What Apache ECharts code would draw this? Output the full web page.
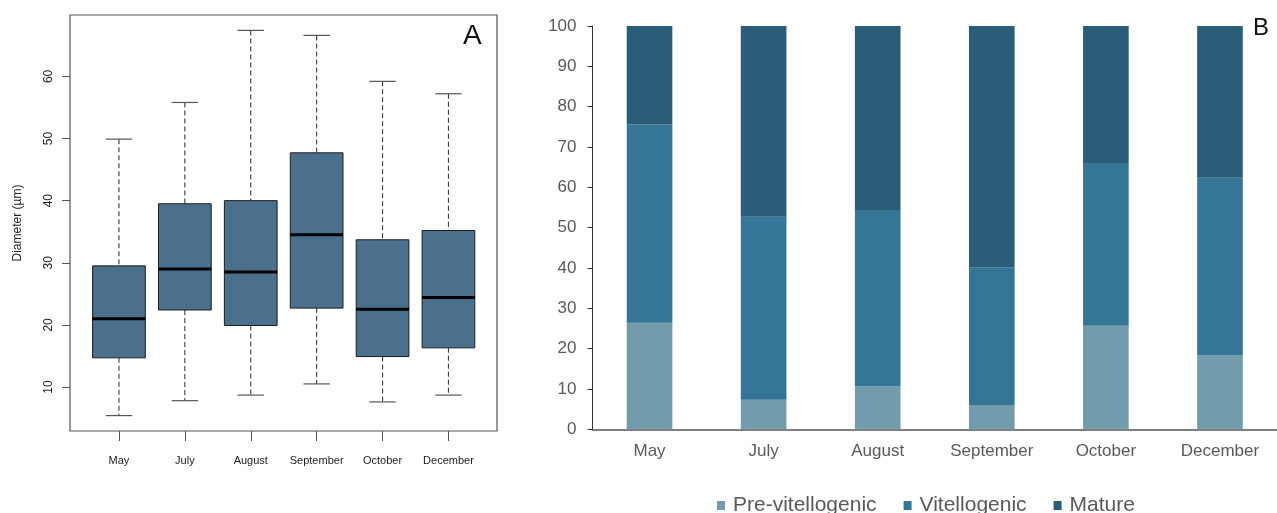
<!DOCTYPE html>
<html lang="en">

<head>
    <meta charset="UTF-8">
    <title>Oocyte diameter and stages</title>
    <script src="https://cdn.jsdelivr.net/npm/echarts@6/dist/echarts.min.js"></script>
    <style>
        * {
            margin: 0;
            padding: 0;
        }
        body {
            background-color: #fff;
        }
        #box {
            width: 1277px;
            height: 513px;
        }
    </style>
</head>

<body>
    <div id="box"></div>
    <script>
        // panel A - boxplot of diameter
        const months = ['May', 'July', 'August', 'September', 'October', 'December'];
        const whiskerLow = [5.4, 7.8, 8.7, 10.5, 7.6, 8.7];
        const q1 = [14.7, 22.4, 19.9, 22.7, 14.9, 16.3];
        const median = [21.0, 29.0, 28.5, 34.5, 22.5, 24.4];
        const q3 = [29.5, 39.5, 40.0, 47.7, 33.7, 35.2];
        const whiskerHigh = [49.9, 55.8, 67.4, 66.6, 59.2, 57.2];
        const diameterTicks = [10, 20, 30, 40, 50, 60];

        // panel B - stage percentages
        const preVit = [26.4, 7.3, 10.7, 6.0, 25.7, 18.3];
        const vitello = [49.2, 45.4, 43.7, 34.2, 40.3, 44.1];
        const mature = [24.4, 47.3, 45.6, 59.8, 34.0, 37.6];

        const font = 'Liberation Sans, Arial, sans-serif';

        let boxData = [];
        for (let i = 0; i < months.length; i++) {
            boxData.push([i, whiskerLow[i], q1[i], median[i], q3[i], whiskerHigh[i]]);
        }

        function renderBox(params, api) {
            const i = api.value(0);
            const lo = api.coord([i, api.value(1)]);
            const b1 = api.coord([i, api.value(2)]);
            const md = api.coord([i, api.value(3)]);
            const b3 = api.coord([i, api.value(4)]);
            const hi = api.coord([i, api.value(5)]);
            const w = api.size([1, 0])[0] * 0.8;
            const x = lo[0];
            const dash = { stroke: '#3a3a3a', lineWidth: 1.1, lineDash: [5, 3] };
            const cap = { stroke: '#555', lineWidth: 1.2 };
            return {
                type: 'group',
                children: [
                    { type: 'line', shape: { x1: x, y1: hi[1], x2: x, y2: b3[1] }, style: dash },
                    { type: 'line', shape: { x1: x, y1: b1[1], x2: x, y2: lo[1] }, style: dash },
                    { type: 'line', shape: { x1: x - w / 4, y1: hi[1], x2: x + w / 4, y2: hi[1] }, style: cap },
                    { type: 'line', shape: { x1: x - w / 4, y1: lo[1], x2: x + w / 4, y2: lo[1] }, style: cap },
                    {
                        type: 'rect',
                        shape: { x: x - w / 2, y: b3[1], width: w, height: b1[1] - b3[1] },
                        style: { fill: '#4a708c', stroke: '#1e1e1e', lineWidth: 1 }
                    },
                    { type: 'line', shape: { x1: x - w / 2, y1: md[1], x2: x + w / 2, y2: md[1] }, style: { stroke: '#000', lineWidth: 3 } }
                ]
            };
        }

        var option = {
            animation: false,
            textStyle: { fontFamily: font },
            title: [
                { text: 'A', left: 463, top: 22, padding: 0, textStyle: { fontSize: 28, fontWeight: 'normal', color: '#111', fontFamily: font } },
                { text: 'B', left: 1253, top: 16, padding: 0, textStyle: { fontSize: 24, fontWeight: 'normal', color: '#111', fontFamily: font } }
            ],
            legend: {
                data: ['Pre-vitellogenic', 'Vitellogenic', 'Mature'],
                left: 712,
                top: 490,
                icon: 'rect',
                itemWidth: 8,
                itemHeight: 9,
                itemGap: 27,
                textStyle: { fontSize: 21, color: '#595959', fontFamily: font, padding: [0, 0, 0, 3] }
            },
            grid: [
                // boxes
                { left: 86, right: 795.6, top: 15, bottom: 82 },
                // frame of panel A
                { left: 70, right: 780, top: 15, bottom: 82, show: true, borderColor: '#555', borderWidth: 1.2, backgroundColor: 'transparent' },
                // panel B
                { left: 592.5, right: -10.3, top: 26, bottom: 83.7 }
            ],
            xAxis: [
                {
                    type: 'category',
                    gridIndex: 0,
                    data: months,
                    axisLine: { show: false },
                    axisTick: { show: true, interval: 0, alignWithLabel: true, length: 10, lineStyle: { color: '#555' } },
                    axisLabel: { interval: 0, fontSize: 11, color: '#222', margin: 24, fontFamily: font }
                },
                { type: 'value', gridIndex: 1, show: false },
                {
                    type: 'category',
                    gridIndex: 2,
                    data: months,
                    axisLine: { lineStyle: { color: '#555', width: 1.5 } },
                    axisTick: { show: false },
                    axisLabel: { interval: 0, fontSize: 17, color: '#595959', margin: 14, fontFamily: font }
                }
            ],
            yAxis: [
                {
                    type: 'value',
                    gridIndex: 0,
                    min: 2.92,
                    max: 69.88,
                    offset: 16,
                    name: 'Diameter (µm)',
                    nameLocation: 'middle',
                    nameGap: 46,
                    nameRotate: 90,
                    nameTextStyle: { fontSize: 12, color: '#222', fontFamily: font },
                    splitLine: { show: false },
                    axisLine: { show: false },
                    axisTick: { show: true, length: 8, customValues: diameterTicks, lineStyle: { color: '#555' } },
                    axisLabel: { rotate: 90, fontSize: 12, color: '#222', margin: 15, customValues: diameterTicks, fontFamily: font }
                },
                { type: 'value', gridIndex: 1, show: false },
                {
                    type: 'value',
                    gridIndex: 2,
                    min: 0,
                    max: 100,
                    interval: 10,
                    splitLine: { show: false },
                    axisLine: { show: true, lineStyle: { color: '#333' } },
                    axisTick: { show: true, length: 5, lineStyle: { color: '#333' } },
                    axisLabel: { fontSize: 17, color: '#595959', margin: 16, fontFamily: font }
                }
            ],
            series: [
                {
                    type: 'custom',
                    xAxisIndex: 0,
                    yAxisIndex: 0,
                    renderItem: renderBox,
                    encode: { x: 0, y: [1, 2, 3, 4, 5] },
                    data: boxData
                },
                {
                    name: 'Pre-vitellogenic',
                    type: 'bar',
                    stack: 'stage',
                    xAxisIndex: 2,
                    yAxisIndex: 2,
                    barWidth: '40%',
                    itemStyle: { color: '#729bab' },
                    data: preVit
                },
                {
                    name: 'Vitellogenic',
                    type: 'bar',
                    stack: 'stage',
                    xAxisIndex: 2,
                    yAxisIndex: 2,
                    barWidth: '40%',
                    itemStyle: { color: '#357595' },
                    data: vitello
                },
                {
                    name: 'Mature',
                    type: 'bar',
                    stack: 'stage',
                    xAxisIndex: 2,
                    yAxisIndex: 2,
                    barWidth: '40%',
                    itemStyle: { color: '#2a5d78' },
                    data: mature
                }
            ]
        };
        echarts.init(document.querySelector('#box')).setOption(option);
    </script>
</body>

</html>
